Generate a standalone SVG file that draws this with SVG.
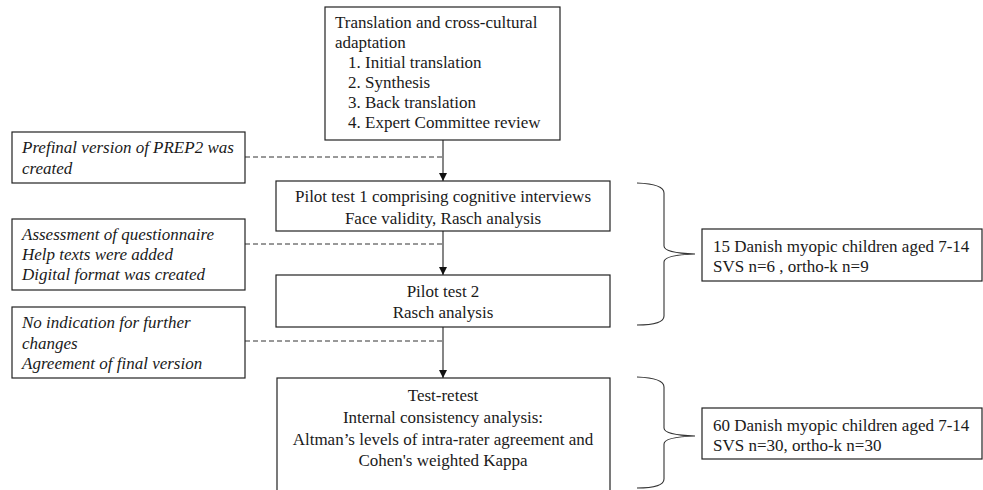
<svg xmlns="http://www.w3.org/2000/svg" width="983" height="490" viewBox="0 0 983 490">
<style>
.box{fill:#fff;stroke:#222;stroke-width:1.2}
.t{font-family:"Liberation Serif","Times New Roman",serif;font-size:17px;fill:#1a1a1a}
.i{font-style:italic}
.c{text-anchor:middle}
.dash{stroke:#333;stroke-width:1;stroke-dasharray:5,3;fill:none}
.arr{stroke:#222;stroke-width:1.1;fill:none;marker-end:url(#ah)}
.brace{stroke:#333;stroke-width:1.1;fill:none}
</style>
<defs>
<marker id="ah" viewBox="0 0 10 10" refX="10" refY="5" markerWidth="8" markerHeight="8" markerUnits="userSpaceOnUse" orient="auto">
<path d="M0,0 L10,5 L0,10 Z" fill="#111"/>
</marker>
</defs>
<rect width="983" height="490" fill="#fff"/>
<g id="connectors">
<line class="arr" x1="443" y1="140" x2="443" y2="181"/>
<line class="arr" x1="443" y1="231" x2="443" y2="275"/>
<line class="arr" x1="443" y1="327" x2="443" y2="378"/>
<line class="dash" x1="245" y1="157" x2="443" y2="157"/>
<line class="dash" x1="245" y1="244" x2="443" y2="244"/>
<line class="dash" x1="245" y1="341" x2="443" y2="341"/>
<path class="brace" d="M637,183 Q664,184 664,193 L664,246 Q664,253 695,254 Q664,255 664,262 L664,316 Q664,325 637,325"/>
<path class="brace" d="M637,377 Q664,378 664,387 L664,428 Q664,435 695,436 Q664,437 664,444 L664,479 Q664,488 637,488"/>
</g>
<g id="translation">
<rect class="box" x="325" y="7" width="235" height="133"/>
<text class="t" x="335" y="28">Translation and cross-cultural</text>
<text class="t" x="335" y="48">adaptation</text>
<text class="t" x="348" y="68">1. Initial translation</text>
<text class="t" x="348" y="88">2. Synthesis</text>
<text class="t" x="348" y="108">3. Back translation</text>
<text class="t" x="348" y="128">4. Expert Committee review</text>
</g>
<g id="note1">
<rect class="box" x="12" y="132" width="233" height="51"/>
<text class="t i" x="22" y="153">Prefinal version of PREP2 was</text>
<text class="t i" x="22" y="174">created</text>
</g>
<g id="pilot1">
<rect class="box" x="276" y="181" width="334" height="50"/>
<text class="t c" x="443" y="202">Pilot test 1 comprising cognitive interviews</text>
<text class="t c" x="443" y="224">Face validity, Rasch analysis</text>
</g>
<g id="note2">
<rect class="box" x="12" y="219" width="233" height="71"/>
<text class="t i" x="22" y="240">Assessment of questionnaire</text>
<text class="t i" x="22" y="260">Help texts were added</text>
<text class="t i" x="22" y="280">Digital format was created</text>
</g>
<g id="pilot2">
<rect class="box" x="276" y="275" width="334" height="52"/>
<text class="t c" x="443" y="297">Pilot test 2</text>
<text class="t c" x="443" y="318">Rasch analysis</text>
</g>
<g id="note3">
<rect class="box" x="12" y="307" width="233" height="71"/>
<text class="t i" x="22" y="328">No indication for further</text>
<text class="t i" x="22" y="349">changes</text>
<text class="t i" x="22" y="369">Agreement of final version</text>
</g>
<g id="testretest">
<rect class="box" x="277" y="378" width="333" height="118"/>
<text class="t c" x="443" y="401">Test-retest</text>
<text class="t c" x="443" y="423">Internal consistency analysis:</text>
<text class="t c" x="443" y="445">Altman’s levels of intra-rater agreement and</text>
<text class="t c" x="443" y="466">Cohen's weighted Kappa</text>
</g>
<g id="sample1">
<rect class="box" x="702" y="229" width="280" height="52"/>
<text class="t" x="713" y="252">15 Danish myopic children aged 7-14</text>
<text class="t" x="713" y="272">SVS n=6 , ortho-k n=9</text>
</g>
<g id="sample2">
<rect class="box" x="702" y="408" width="280" height="51"/>
<text class="t" x="713" y="431">60 Danish myopic children aged 7-14</text>
<text class="t" x="713" y="451">SVS n=30, ortho-k n=30</text>
</g>
</svg>
